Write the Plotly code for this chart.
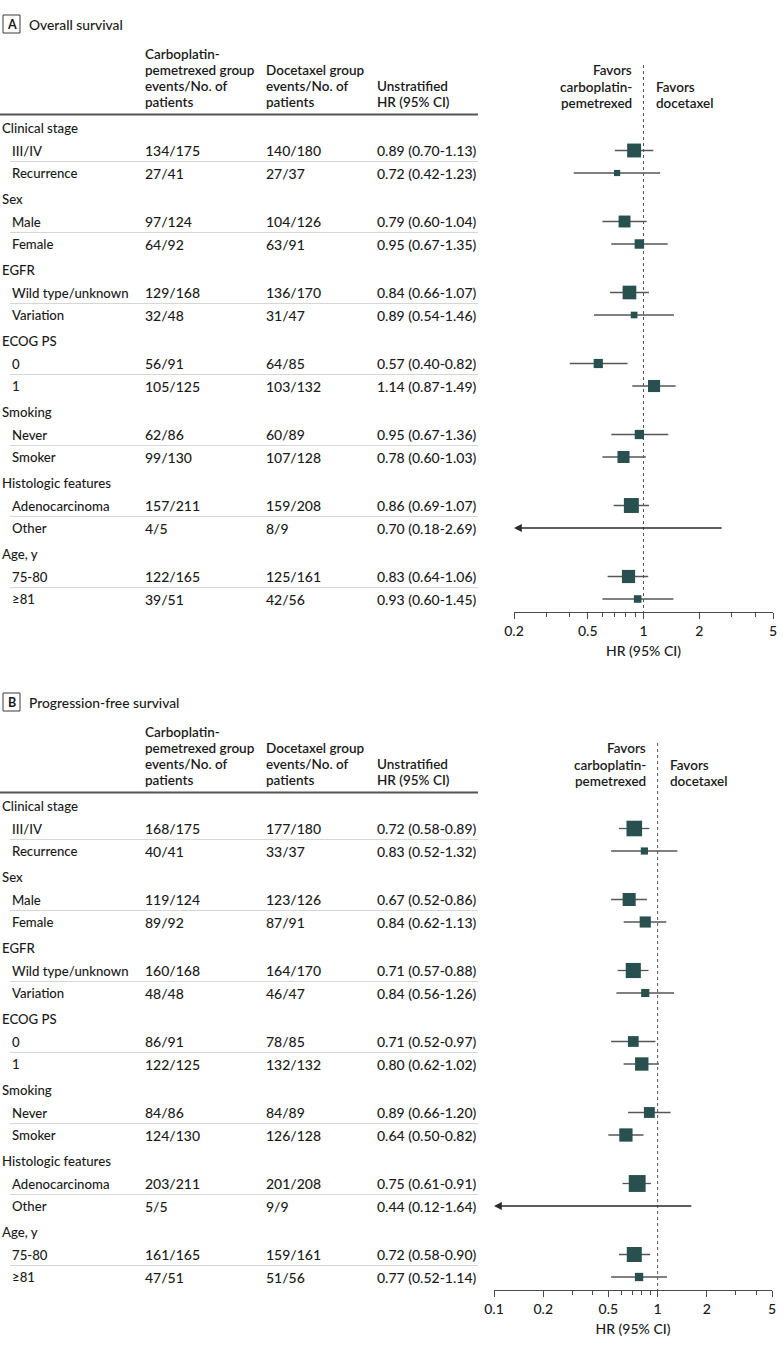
import math
import plotly.graph_objects as go

# ---------------- data ----------------
groups = ["Clinical stage", "Sex", "EGFR", "ECOG PS", "Smoking", "Histologic features", "Age, y"]
subgroups = [["III/IV", "Recurrence"], ["Male", "Female"], ["Wild type/unknown", "Variation"],
             ["0", "1"], ["Never", "Smoker"], ["Adenocarcinoma", "Other"], ["75-80", "≥81"]]

os_cp = ["134/175", "27/41", "97/124", "64/92", "129/168", "32/48", "56/91", "105/125",
         "62/86", "99/130", "157/211", "4/5", "122/165", "39/51"]
os_dt = ["140/180", "27/37", "104/126", "63/91", "136/170", "31/47", "64/85", "103/132",
         "60/89", "107/128", "159/208", "8/9", "125/161", "42/56"]
os_hr = [0.89, 0.72, 0.79, 0.95, 0.84, 0.89, 0.57, 1.14, 0.95, 0.78, 0.86, 0.70, 0.83, 0.93]
os_lo = [0.70, 0.42, 0.60, 0.67, 0.66, 0.54, 0.40, 0.87, 0.67, 0.60, 0.69, 0.18, 0.64, 0.60]
os_hi = [1.13, 1.23, 1.04, 1.35, 1.07, 1.46, 0.82, 1.49, 1.36, 1.03, 1.07, 2.69, 1.06, 1.45]

pfs_cp = ["168/175", "40/41", "119/124", "89/92", "160/168", "48/48", "86/91", "122/125",
          "84/86", "124/130", "203/211", "5/5", "161/165", "47/51"]
pfs_dt = ["177/180", "33/37", "123/126", "87/91", "164/170", "46/47", "78/85", "132/132",
          "84/89", "126/128", "201/208", "9/9", "159/161", "51/56"]
pfs_hr = [0.72, 0.83, 0.67, 0.84, 0.71, 0.84, 0.71, 0.80, 0.89, 0.64, 0.75, 0.44, 0.72, 0.77]
pfs_lo = [0.58, 0.52, 0.52, 0.62, 0.57, 0.56, 0.52, 0.62, 0.66, 0.50, 0.61, 0.12, 0.58, 0.52]
pfs_hi = [0.89, 1.32, 0.86, 1.13, 0.88, 1.26, 0.97, 1.02, 1.20, 0.82, 0.91, 1.64, 0.90, 1.14]

panel_letters = ["A", "B"]
panel_titles = ["Overall survival", "Progression-free survival"]
col_headers = [["Carboplatin-", "pemetrexed group", "events/No. of", "patients"],
               ["Docetaxel group", "events/No. of", "patients"],
               ["Unstratified", "HR (95% CI)"]]
favors_left = ["Favors", "carboplatin-", "pemetrexed"]
favors_right = ["Favors", "docetaxel"]
axis_title = "HR (95% CI)"
tick_vals_A = [0.2, 0.5, 1, 2, 5]
tick_vals_B = [0.1, 0.2, 0.5, 1, 2, 5]
minor_vals = [0.3, 0.4, 0.6, 0.7, 0.8, 0.9, 3, 4]

# ---------------- layout constants ----------------
W, H = 783, 1350
FONT = "Lato"
TXT = "#1a1a1a"
SQ = "#27504e"
CI = "#555757"
PANEL_OFFSET = 678
AXIS_Y = 612          # local pixel of the x-axis line
COL_X = [143, 264, 375]
TABLE_RIGHT = 478
ARROW_BELOW = 0.2
BODY_W = 500
HEAD_W = 600
NUM_SIZE = 14
LABEL_SIZE = 13.2
HEAD_SIZE = 13.5

fig = go.Figure()


def px(x):
    return x / W


def tick_text(v):
    return ("%g" % v)


panels = [
    dict(cp=os_cp, dt=os_dt, hr=os_hr, lo=os_lo, hi=os_hi, xr=(0.2, 5), xd=(514, 773), ticks=tick_vals_A),
    dict(cp=pfs_cp, dt=pfs_dt, hr=pfs_hr, lo=pfs_lo, hi=pfs_hi, xr=(0.1, 5), xd=(494, 772), ticks=tick_vals_B),
]

annotations = []
shapes = []

for p, P in enumerate(panels):
    xname = "x" if p == 0 else "x2"
    yname = "y" if p == 0 else "y2"
    xkey = "xaxis" if p == 0 else "xaxis2"
    ykey = "yaxis" if p == 0 else "yaxis2"
    top = p * PANEL_OFFSET
    bottom = top + AXIS_Y

    # row positions (local pixels)
    row_y, head_y = [], []
    for g in range(len(groups)):
        gy = 128 + 71 * g
        head_y.append(gy)
        row_y.append(gy + 22.5)
        row_y.append(gy + 45)

    # panel label box and title
    shapes.append(dict(type="rect", xref="paper", yref=yname, x0=px(3), x1=px(20), y0=15, y1=33,
                       line=dict(color="#3a3a3a", width=1)))
    annotations.append(dict(xref="paper", yref=yname, x=px(11.5), y=24.5, text="<b>%s</b>" % panel_letters[p],
                            showarrow=False, xanchor="center", yanchor="middle",
                            font=dict(size=12.5, color=TXT, family=FONT)))
    annotations.append(dict(xref="paper", yref=yname, x=px(27), y=24, text=panel_titles[p],
                            showarrow=False, xanchor="left", yanchor="middle",
                            font=dict(size=13.8, color=TXT, family=FONT, weight=BODY_W)))

    # column headers (bottom aligned)
    for c, lines in enumerate(col_headers):
        n = len(lines)
        for i, t in enumerate(lines):
            annotations.append(dict(xref="paper", yref=yname, x=px(COL_X[c]), y=102 - 16 * (n - 1 - i),
                                    text=t, showarrow=False, xanchor="left", yanchor="middle",
                                    font=dict(size=HEAD_SIZE, color=TXT, family=FONT, weight=HEAD_W)))
    # favors labels
    for i, t in enumerate(favors_left):
        annotations.append(dict(xref=xname, yref=yname, x=0, y=103 - 16.5 * (len(favors_left) - 1 - i),
                                xshift=-10, text=t, showarrow=False, xanchor="right", yanchor="middle",
                                font=dict(size=HEAD_SIZE, color=TXT, family=FONT, weight=HEAD_W)))
    for i, t in enumerate(favors_right):
        annotations.append(dict(xref=xname, yref=yname, x=0, y=103 - 16.5 * (len(favors_right) - 1 - i),
                                xshift=10, text=t, showarrow=False, xanchor="left", yanchor="middle",
                                font=dict(size=HEAD_SIZE, color=TXT, family=FONT, weight=HEAD_W)))

    # header rule
    shapes.append(dict(type="line", xref="paper", yref=yname, x0=0, x1=px(TABLE_RIGHT), y0=114.5, y1=114.5,
                       line=dict(color="#555555", width=1.8)))

    # group labels, subrows, separators
    k = 0
    for g, gname in enumerate(groups):
        annotations.append(dict(xref="paper", yref=yname, x=0, y=head_y[g], text=gname, showarrow=False,
                                xanchor="left", yanchor="middle",
                                font=dict(size=LABEL_SIZE, color=TXT, family=FONT, weight=BODY_W)))
        shapes.append(dict(type="line", xref="paper", yref=yname, x0=px(10), x1=px(TABLE_RIGHT),
                           y0=head_y[g] + 33.5, y1=head_y[g] + 33.5, line=dict(color="#d6d6d6", width=1)))
        for s, sname in enumerate(subgroups[g]):
            y = row_y[k]
            hrtxt = "%.2f (%.2f-%.2f)" % (P["hr"][k], P["lo"][k], P["hi"][k])
            cells = [(10, sname, LABEL_SIZE), (COL_X[0], P["cp"][k], NUM_SIZE),
                     (COL_X[1], P["dt"][k], NUM_SIZE), (COL_X[2], hrtxt, NUM_SIZE)]
            for xx, t, fs in cells:
                annotations.append(dict(xref="paper", yref=yname, x=px(xx), y=y, text=t, showarrow=False,
                                        xanchor="left", yanchor="middle",
                                        font=dict(size=fs, color=TXT, family=FONT, weight=BODY_W)))
            k += 1

    # null line
    fig.add_trace(go.Scatter(x=[1, 1], y=[65, AXIS_Y], mode="lines", xaxis=xname, yaxis=yname,
                             line=dict(color="#555555", width=1, dash="dot"), hoverinfo="skip", showlegend=False))

    # CI lines (arrow when the lower bound runs off the scale)
    lx, ly = [], []
    mx, my, ms = [], [], []
    for i in range(len(P["hr"])):
        if P["lo"][i] < ARROW_BELOW:
            annotations.append(dict(xref=xname, yref=yname, axref=xname, ayref=yname,
                                    x=math.log10(P["xr"][0]), y=row_y[i],
                                    ax=math.log10(P["hi"][i]), ay=row_y[i], text="", showarrow=True,
                                    arrowhead=2, arrowsize=1.2, arrowwidth=1.3, arrowcolor="#2a2a2a",
                                    standoff=0))
        else:
            lx += [P["lo"][i], P["hi"][i], None]
            ly += [row_y[i], row_y[i], None]
            ev = int(P["cp"][i].split("/")[0]) + int(P["dt"][i].split("/")[0])
            mx.append(P["hr"][i])
            my.append(row_y[i])
            ms.append(0.84 * math.sqrt(ev))   # square size scaled by total events
    fig.add_trace(go.Scatter(x=lx, y=ly, mode="lines", xaxis=xname, yaxis=yname,
                             line=dict(color=CI, width=1.3), hoverinfo="skip", showlegend=False))
    fig.add_trace(go.Scatter(x=mx, y=my, mode="markers", xaxis=xname, yaxis=yname,
                             marker=dict(symbol="square", size=ms, color=SQ, opacity=1, line=dict(width=0)),
                             hoverinfo="skip", showlegend=False, cliponaxis=False))

    fig.layout[xkey] = dict(
        type="log", domain=[px(P["xd"][0]), px(P["xd"][1])],
        range=[math.log10(P["xr"][0]), math.log10(P["xr"][1])],
        anchor=yname, showline=True, linecolor="#4a4a4a", linewidth=1.2,
        tickmode="array", tickvals=P["ticks"], ticktext=[tick_text(v) for v in P["ticks"]],
        ticks="outside", ticklen=6, tickwidth=1, tickcolor="#4a4a4a",
        minor=dict(tickmode="array", tickvals=minor_vals, ticks="outside", ticklen=4,
                   tickwidth=1, tickcolor="#4a4a4a", showgrid=False),
        showgrid=False, zeroline=False, fixedrange=True, automargin=False,
        tickfont=dict(size=NUM_SIZE, color=TXT, family=FONT, weight=BODY_W),
        title=dict(text=axis_title, font=dict(size=NUM_SIZE, color=TXT, family=FONT, weight=BODY_W), standoff=8),
    )
    fig.layout[ykey] = dict(
        domain=[1 - bottom / H, 1 - top / H], range=[AXIS_Y, 0],
        visible=False, showgrid=False, zeroline=False, fixedrange=True, automargin=False,
    )

fig.update_layout(
    width=W, height=H, margin=dict(l=0, r=0, t=0, b=0, pad=0, autoexpand=False),
    paper_bgcolor="white", plot_bgcolor="white",
    annotations=annotations, shapes=shapes,
    font=dict(family=FONT, color=TXT),
)

fig.write_html("out.html", config={"displayModeBar": False, "responsive": False},
               post_script="document.body.style.margin='0';document.body.style.padding='0';")
